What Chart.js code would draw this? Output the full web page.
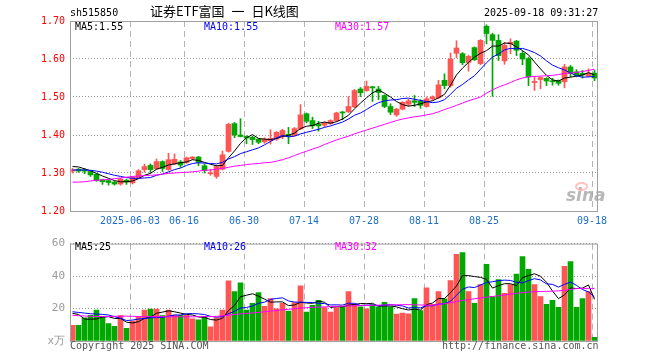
<!DOCTYPE html>
<html>
<head>
<meta charset="utf-8">
<script src="https://cdn.jsdelivr.net/npm/chart.js@4.4.1/dist/chart.umd.min.js"></script>
<style>
  html, body { margin:0; padding:0; background:#fff; }
  #wrap { position:relative; width:660px; height:360px; overflow:hidden; background:#fff; }
  canvas { position:absolute; left:0; }
  .t { position:absolute; white-space:pre; font-family:"DejaVu Sans Mono", "Liberation Mono", monospace; font-size:10px; line-height:10px; }
</style>
</head>
<body>
<div id="wrap">
  <canvas id="price" width="660" height="232" style="top:0"></canvas>
  <canvas id="vol" width="660" height="128" style="top:232px"></canvas>

  <div class="t" style="left:70px;top:8px;color:#000">sh515850</div>
  <div class="t" style="left:150px;top:4px;font-family:'Noto Sans CJK SC','DejaVu Sans Mono',sans-serif;font-size:13px;line-height:14px;word-spacing:4px;color:#000">证券ETF富国 一 日K线图</div>
  <div class="t" style="left:484px;top:8px;color:#000">2025-09-18 09:31:27</div>

  <div class="t" style="left:75px;top:22px;color:#000">MA5:1.55</div>
  <div class="t" style="left:204px;top:22px;color:#0000ee">MA10:1.55</div>
  <div class="t" style="left:335px;top:22px;color:#ff00ff">MA30:1.57</div>

  <div class="t" style="left:75px;top:242px;color:#000">MA5:25</div>
  <div class="t" style="left:204px;top:242px;color:#0000ee">MA10:26</div>
  <div class="t" style="left:335px;top:242px;color:#ff00ff">MA30:32</div>

  <div class="t" style="left:70px;top:341px;color:#555">Copyright 2025 SINA.COM</div>
  <div class="t" style="left:442px;top:341px;color:#555">http://finance.sina.com.cn</div>

  <div class="t" style="left:566px;top:186px;font-family:'DejaVu Sans',sans-serif;font-size:17px;line-height:18px;font-weight:bold;font-style:italic;color:rgba(160,160,160,0.75)">sina</div>
  <div style="position:absolute;left:575px;top:182px;width:9px;height:5px;border:2px solid rgba(255,120,120,0.45);border-radius:50%"></div>
</div>

<script>
// ---------------- data ----------------
const dates = [
'2025-05-19','2025-05-20','2025-05-21','2025-05-22','2025-05-23','2025-05-26','2025-05-27','2025-05-28','2025-05-29','2025-05-30',
'2025-06-03','2025-06-04','2025-06-05','2025-06-06','2025-06-09','2025-06-10','2025-06-11','2025-06-12','2025-06-13','2025-06-16',
'2025-06-17','2025-06-18','2025-06-19','2025-06-20','2025-06-23','2025-06-24','2025-06-25','2025-06-26','2025-06-27','2025-06-30',
'2025-07-01','2025-07-02','2025-07-03','2025-07-04','2025-07-07','2025-07-08','2025-07-09','2025-07-10','2025-07-11','2025-07-14',
'2025-07-15','2025-07-16','2025-07-17','2025-07-18','2025-07-21','2025-07-22','2025-07-23','2025-07-24','2025-07-25','2025-07-28',
'2025-07-29','2025-07-30','2025-07-31','2025-08-01','2025-08-04','2025-08-05','2025-08-06','2025-08-07','2025-08-08','2025-08-11',
'2025-08-12','2025-08-13','2025-08-14','2025-08-15','2025-08-18','2025-08-19','2025-08-20','2025-08-21','2025-08-22','2025-08-25',
'2025-08-26','2025-08-27','2025-08-28','2025-08-29','2025-09-01','2025-09-02','2025-09-03','2025-09-04','2025-09-05','2025-09-08',
'2025-09-09','2025-09-10','2025-09-11','2025-09-12','2025-09-15','2025-09-16','2025-09-17','2025-09-18'];

const tickDates  = ['2025-06-03','2025-06-16','2025-06-30','2025-07-14','2025-07-28','2025-08-11','2025-08-25','2025-09-18'];
const tickLabels = ['2025-06-03','06-16','06-30','07-14','07-28','08-11','08-25','09-18'];

const open = [
1.305,1.310,1.308,1.304,1.297,1.282,1.280,1.276,1.271,1.281,
1.274,1.287,1.309,1.320,1.311,1.330,1.309,1.324,1.329,1.328,
1.338,1.342,1.319,1.298,1.291,1.310,1.357,1.430,1.400,1.396,
1.394,1.389,1.382,1.385,1.389,1.396,1.402,1.399,1.416,1.456,
1.438,1.428,1.426,1.430,1.438,1.460,1.461,1.474,1.521,1.517,
1.527,1.521,1.504,1.475,1.453,1.468,1.481,1.490,1.489,1.475,
1.495,1.498,1.544,1.530,1.615,1.614,1.591,1.630,1.588,1.686,
1.664,1.649,1.595,1.640,1.647,1.615,1.601,1.538,1.546,1.549,
1.542,1.543,1.540,1.579,1.566,1.562,1.555,1.563];
const high = [
1.312,1.312,1.312,1.306,1.299,1.284,1.282,1.278,1.286,1.284,
1.291,1.309,1.323,1.324,1.337,1.332,1.352,1.350,1.333,1.342,
1.343,1.344,1.324,1.309,1.320,1.358,1.431,1.433,1.443,1.398,
1.397,1.391,1.393,1.414,1.409,1.415,1.420,1.420,1.480,1.458,
1.447,1.436,1.434,1.440,1.460,1.462,1.501,1.520,1.525,1.542,
1.528,1.528,1.506,1.482,1.470,1.488,1.494,1.504,1.493,1.500,
1.503,1.544,1.561,1.616,1.648,1.617,1.610,1.632,1.651,1.690,
1.668,1.664,1.644,1.653,1.649,1.620,1.605,1.553,1.553,1.551,
1.549,1.545,1.586,1.583,1.572,1.570,1.574,1.570];
const low = [
1.300,1.302,1.298,1.291,1.278,1.270,1.268,1.268,1.268,1.270,
1.271,1.285,1.302,1.300,1.309,1.304,1.307,1.322,1.315,1.325,
1.335,1.319,1.300,1.294,1.286,1.308,1.355,1.393,1.395,1.377,
1.375,1.377,1.378,1.376,1.386,1.390,1.377,1.397,1.414,1.432,
1.417,1.410,1.421,1.428,1.436,1.440,1.459,1.472,1.501,1.515,
1.488,1.493,1.472,1.454,1.449,1.466,1.476,1.475,1.470,1.473,
1.492,1.496,1.522,1.526,1.603,1.585,1.568,1.596,1.585,1.640,
1.502,1.596,1.586,1.614,1.609,1.585,1.530,1.517,1.522,1.530,
1.531,1.531,1.524,1.553,1.553,1.550,1.553,1.543];
const close = [
1.308,1.305,1.305,1.295,1.280,1.277,1.275,1.271,1.284,1.276,
1.289,1.306,1.317,1.309,1.330,1.312,1.335,1.336,1.321,1.340,
1.342,1.328,1.307,1.299,1.317,1.348,1.428,1.400,1.396,1.392,
1.388,1.381,1.389,1.391,1.407,1.412,1.397,1.417,1.453,1.436,
1.424,1.424,1.431,1.438,1.458,1.458,1.475,1.517,1.511,1.528,
1.524,1.512,1.475,1.460,1.468,1.486,1.490,1.486,1.478,1.495,
1.500,1.532,1.530,1.600,1.629,1.590,1.607,1.598,1.649,1.667,
1.649,1.609,1.636,1.644,1.623,1.600,1.553,1.541,1.551,1.542,
1.540,1.536,1.579,1.562,1.557,1.558,1.563,1.550];

const ma5 = [
1.317,1.316,1.311,1.306,1.299,1.292,1.286,1.280,1.277,1.277,
1.279,1.285,1.294,1.299,1.310,1.315,1.321,1.324,1.327,1.329,
1.335,1.333,1.328,1.323,1.319,1.320,1.340,1.358,1.378,1.393,
1.401,1.391,1.389,1.388,1.391,1.396,1.399,1.405,1.417,1.423,
1.425,1.431,1.434,1.431,1.435,1.442,1.452,1.469,1.484,1.498,
1.511,1.518,1.510,1.500,1.488,1.480,1.476,1.478,1.482,1.487,
1.490,1.498,1.507,1.531,1.558,1.576,1.591,1.605,1.615,1.622,
1.634,1.634,1.642,1.641,1.632,1.622,1.611,1.592,1.574,1.557,
1.545,1.542,1.550,1.552,1.555,1.558,1.564,1.558];
const ma10 = [
1.308,1.308,1.308,1.307,1.305,1.302,1.298,1.294,1.291,1.288,
1.286,1.286,1.287,1.288,1.294,1.297,1.303,1.309,1.313,1.320,
1.325,1.327,1.326,1.325,1.324,1.328,1.337,1.343,1.351,1.356,
1.361,1.366,1.374,1.383,1.392,1.399,1.395,1.397,1.403,1.407,
1.411,1.415,1.420,1.424,1.429,1.434,1.442,1.452,1.458,1.467,
1.477,1.485,1.490,1.492,1.493,1.496,1.497,1.494,1.491,1.488,
1.485,1.487,1.493,1.507,1.523,1.533,1.545,1.556,1.573,1.590,
1.605,1.613,1.624,1.628,1.627,1.628,1.623,1.617,1.608,1.595,
1.584,1.577,1.571,1.563,1.556,1.552,1.553,1.554];
const ma30 = [
1.276,1.276,1.277,1.279,1.281,1.282,1.283,1.285,1.287,1.289,
1.291,1.292,1.293,1.294,1.295,1.297,1.299,1.300,1.301,1.302,
1.303,1.305,1.307,1.308,1.310,1.312,1.315,1.318,1.320,1.322,
1.324,1.325,1.327,1.328,1.331,1.335,1.340,1.346,1.352,1.357,
1.363,1.368,1.375,1.381,1.387,1.392,1.397,1.403,1.408,1.413,
1.418,1.423,1.428,1.433,1.438,1.442,1.445,1.448,1.450,1.453,
1.456,1.461,1.467,1.472,1.478,1.484,1.490,1.495,1.500,1.510,
1.519,1.526,1.532,1.538,1.545,1.550,1.553,1.554,1.555,1.556,
1.557,1.559,1.562,1.563,1.565,1.567,1.570,1.573];

const volume = [
9.6,9.6,14.2,15.8,19.0,15.0,10.8,9.0,15.6,7.8,
12.2,15.0,19.0,19.6,19.6,15.6,19.0,16.0,15.8,15.8,
13.6,13.0,15.0,8.8,14.2,19.0,37.0,30.4,35.8,19.0,
23.2,29.8,21.4,26.2,19.8,23.2,18.4,23.6,34.0,17.8,
22.0,25.0,20.6,17.8,20.6,21.0,30.4,22.6,21.0,19.8,
22.4,21.0,23.8,21.0,16.6,17.2,16.8,26.2,18.8,32.8,
22.6,30.4,26.0,37.2,53.4,54.4,30.4,23.2,34.8,47.2,
27.4,37.8,29.4,34.8,41.2,52.0,44.2,34.8,27.4,22.6,
25.0,20.8,46.0,49.0,20.8,26.2,30.4,2.2];
const volMa5 = [
17.0,16.4,13.5,13.4,13.6,14.7,15.0,13.9,13.9,11.6,
11.1,11.9,13.9,14.7,17.1,17.8,18.6,18.0,17.2,16.4,
16.0,14.8,14.6,13.2,12.9,14.0,18.8,21.9,27.3,28.2,
29.1,27.6,25.8,23.9,24.1,24.1,21.8,22.2,23.8,23.4,
23.2,24.5,23.9,20.6,21.2,21.0,22.1,22.5,23.1,23.0,
23.2,21.4,21.6,21.6,21.0,19.9,19.1,19.6,19.1,22.4,
23.4,26.2,26.1,29.8,33.9,40.3,40.3,39.7,39.2,38.0,
32.6,34.1,35.3,35.3,34.1,39.0,40.3,41.4,39.9,36.2,
30.8,26.1,28.4,32.7,32.3,32.6,34.5,25.7];
const volMa10 = [
18.0,17.6,17.2,16.8,16.6,16.4,16.0,15.0,14.0,12.6,
12.9,13.5,13.9,14.3,14.4,14.5,15.3,16.0,16.0,16.8,
16.9,16.7,16.3,15.2,14.7,15.0,16.8,18.3,20.3,20.6,
21.6,23.2,23.9,25.6,26.2,26.6,24.7,24.0,23.9,23.8,
23.7,23.2,23.1,22.2,22.3,22.1,23.3,23.2,21.9,22.1,
22.1,21.8,22.1,22.4,22.0,21.6,20.3,20.6,20.4,21.7,
21.7,22.7,22.9,24.5,28.2,31.9,33.3,32.9,34.5,36.0,
36.5,37.2,37.5,37.3,36.1,35.8,37.2,38.4,37.6,35.2,
34.9,33.2,34.9,36.3,34.3,31.7,30.3,27.1];
const volMa30 = [
15.8,15.6,15.4,15.2,15.1,15.0,15.1,15.2,15.3,15.3,
15.2,15.1,15.0,15.0,15.0,15.0,14.9,14.9,14.9,14.9,
14.9,15.0,15.0,15.0,15.2,15.5,15.9,16.3,16.7,17.0,
17.3,17.6,18.0,18.4,18.8,19.2,19.5,19.9,20.3,20.5,
20.7,20.9,21.0,21.2,21.4,21.5,21.6,21.7,21.8,21.9,
22.0,22.1,22.2,22.3,22.3,22.4,22.4,22.3,22.2,22.1,
22.0,22.4,23.0,23.6,24.3,25.0,25.5,26.0,26.5,27.0,
27.4,27.9,28.4,28.9,29.4,29.8,30.1,30.4,30.5,30.6,
30.7,30.9,31.2,31.8,32.3,32.4,32.4,32.4];

const priceTicks = [1.20, 1.30, 1.40, 1.50, 1.60, 1.70];
const volTicks = [0, 20, 40, 60];

// ---------------- styling ----------------
const RED = '#ff5555', GREEN = '#00a800';
const MONO = "'DejaVu Sans Mono', 'Liberation Mono', monospace";
const barColors = close.map((c, i) => c >= open[i] ? RED : GREEN);
const tickIdx = tickDates.map(d => dates.indexOf(d));

// x positions: bar i centred at 72.5 + 6i inside a 527px plot (70..597)
const X_MIN = -2.5 / 6;
const X_MAX = X_MIN + 527 / 6;

const framePlugin = {
  id: 'frame',
  afterDraw(chart) {
    const a = chart.chartArea, c = chart.ctx;
    c.save();
    c.strokeStyle = '#a0a0a0';
    c.lineWidth = 1;
    c.strokeRect(a.left + 0.5, a.top + 0.5, a.right - a.left, a.bottom - a.top);
    c.restore();
  }
};

function xScale(showLabels, height) {
  return {
    type: 'linear',
    min: X_MIN, max: X_MAX,
    offset: false,
    afterBuildTicks: s => { s.ticks = tickIdx.map(i => ({ value: i + X_MIN })); },
    afterFit: s => { s.height = height; },
    grid: { color: '#b4b4b4', lineWidth: 1, drawTicks: false, offset: false },
    border: { display: false, dash: [6, 4] },
    ticks: {
      display: showLabels, autoSkip: false, maxRotation: 0, padding: 4,
      color: '#1e6ec8', font: { family: MONO, size: 10 },
      callback: (v, idx) => tickLabels[idx]
    }
  };
}
const line = (data, color) => ({
  type: 'line', data: data.map((v, i) => ({ x: i, y: v })),
  borderColor: color, borderWidth: 1, pointRadius: 0, tension: 0, order: 0
});

// ---------------- price chart ----------------
new Chart(document.getElementById('price'), {
  type: 'bar',
  data: {
    datasets: [
      { data: low.map((l, i) => ({ x: i, y: [l, high[i]] })), backgroundColor: barColors,
        barThickness: 1, grouped: false, order: 3 },
      { data: open.map((o, i) => ({ x: i, y: [o, close[i]] })), backgroundColor: barColors,
        barThickness: 5, grouped: false, minBarLength: 1, order: 2 },
      line(ma30, '#ff00ff'),
      line(ma10, '#0000ff'),
      line(ma5, '#000000')
    ]
  },
  options: {
    responsive: false, animation: false, devicePixelRatio: 1,
    layout: { padding: { top: 21, right: 63, left: 0, bottom: 0 } },
    plugins: { legend: { display: false }, tooltip: { enabled: false } },
    scales: {
      x: xScale(true, 21),
      y: {
        type: 'linear', min: priceTicks[0], max: priceTicks[priceTicks.length - 1],
        afterFit: s => { s.width = 70; },
        afterBuildTicks: s => { s.ticks = priceTicks.map(v => ({ value: v })); },
        grid: { color: '#999', drawTicks: false },
        border: { display: false, dash: [1, 2] },
        ticks: { color: '#ff0000', padding: 5, font: { family: MONO, size: 10 },
                 callback: v => Number(v).toFixed(2) }
      }
    }
  },
  plugins: [framePlugin]
});

// ---------------- volume chart ----------------
new Chart(document.getElementById('vol'), {
  type: 'bar',
  data: {
    datasets: [
      { data: volume.map((v, i) => ({ x: i, y: v })), backgroundColor: barColors,
        barThickness: 5, grouped: false, order: 2 },
      line(volMa30, '#ff00ff'),
      line(volMa10, '#0000ff'),
      line(volMa5, '#000000')
    ]
  },
  options: {
    responsive: false, animation: false, devicePixelRatio: 1,
    layout: { padding: { top: 8, right: 63, left: 0, bottom: 0 } },
    plugins: { legend: { display: false }, tooltip: { enabled: false } },
    scales: {
      x: xScale(false, 19),
      y: {
        type: 'linear', min: volTicks[0], max: volTicks[volTicks.length - 1],
        afterFit: s => { s.width = 70; },
        afterBuildTicks: s => { s.ticks = volTicks.map(v => ({ value: v })); },
        grid: { color: '#999', drawTicks: false },
        border: { display: false, dash: [1, 2] },
        ticks: { color: '#9a9a9a', padding: 5, font: { family: MONO, size: 11 },
                 callback: v => v === 0 ? 'x万' : String(v) }
      }
    }
  },
  plugins: [framePlugin]
});
</script>
</body>
</html>
